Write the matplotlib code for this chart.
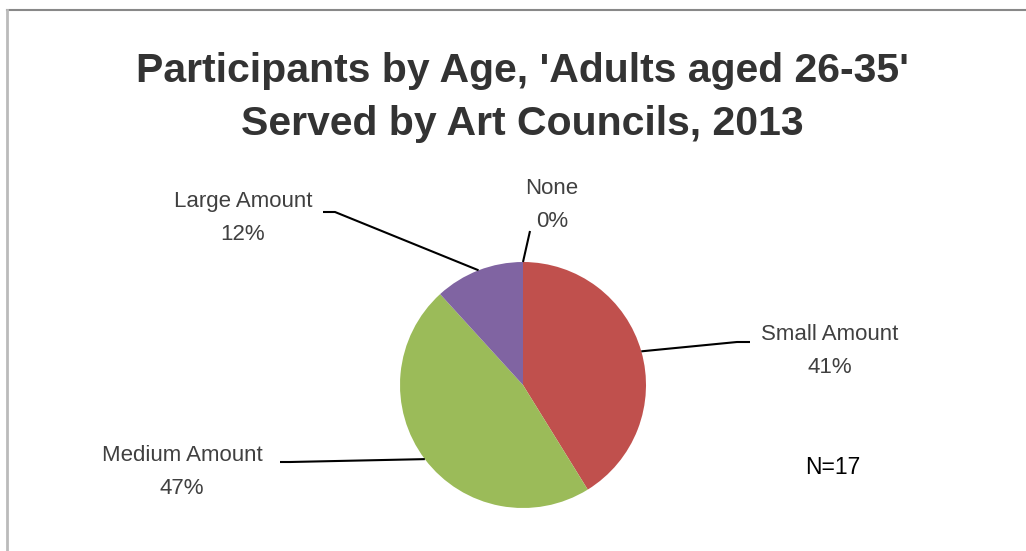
import numpy as np
import matplotlib.pyplot as plt
from matplotlib.lines import Line2D

categories = ['None', 'Small Amount', 'Medium Amount', 'Large Amount']
counts = [0, 7, 8, 2]
colors = ['#4F81BD', '#C0504D', '#9BBB59', '#8064A2']
n_total = 17

W, H = 1026, 551
fig = plt.figure(figsize=(W / 100, H / 100), dpi=100)
fig.patch.set_facecolor('white')

# chart frame (top and left edges only show)
fig.add_artist(Line2D([7 / W, 1025 / W], [1 - 10 / H, 1 - 10 / H], color='#888888', lw=1.5))
fig.add_artist(Line2D([7 / W, 7 / W], [0, 1 - 10 / H], color='#BBBBBB', lw=2))

fig.text(522 / W, 1 - 71 / H, "Participants by Age, 'Adults aged 26-35'",
         ha='center', va='center', fontsize=29.5, fontweight='bold',
         color='#333333', family='Liberation Sans')
fig.text(522 / W, 1 - 124 / H, "Served by Art Councils, 2013",
         ha='center', va='center', fontsize=29.5, fontweight='bold',
         color='#333333', family='Liberation Sans')

cx, cy, r = 523, 385, 123
ax = fig.add_axes([(cx - r) / W, (H - cy - r) / H, 2 * r / W, 2 * r / H])
wedges, _ = ax.pie(counts, colors=colors, startangle=90, counterclock=False,
                   radius=1, wedgeprops=dict(linewidth=0))
ax.set_xlim(-1, 1)
ax.set_ylim(-1, 1)
ax.set_aspect('equal')
ax.axis('off')


def px(x, y):
    return (x - cx) / r, (cy - y) / r


# label centre and leader elbow, in pixels
label_pos = {
    'None': ((552, 205), [(530, 231)]),
    'Small Amount': ((830, 351), [(737, 342), (750, 342)]),
    'Medium Amount': ((182, 472), [(290, 462), (280, 462)]),
    'Large Amount': ((243, 218), [(335, 212), (323, 212)]),
}

for w, cat, val in zip(wedges, categories, counts):
    mid = np.deg2rad((w.theta1 + w.theta2) / 2)
    edge = (np.cos(mid), np.sin(mid))
    (tx, ty), elbow = label_pos[cat]
    pts = [edge] + [px(*p) for p in elbow]
    xs, ys = zip(*pts)
    ax.plot(xs, ys, color='black', lw=1.5, clip_on=False, solid_capstyle='butt')
    pct = round(val / sum(counts) * 100)
    lx, ly = px(tx, ty)
    ax.text(lx, ly, f'{cat}\n{pct}%', ha='center', va='center', fontsize=16,
            color='#404040', family='Liberation Sans', linespacing=1.8,
            clip_on=False)

fig.text(833 / W, 1 - 467 / H, f'N={n_total}', ha='center', va='center',
         fontsize=16.5, color='black', family='Liberation Sans')

fig.savefig('out.png', dpi=100)
